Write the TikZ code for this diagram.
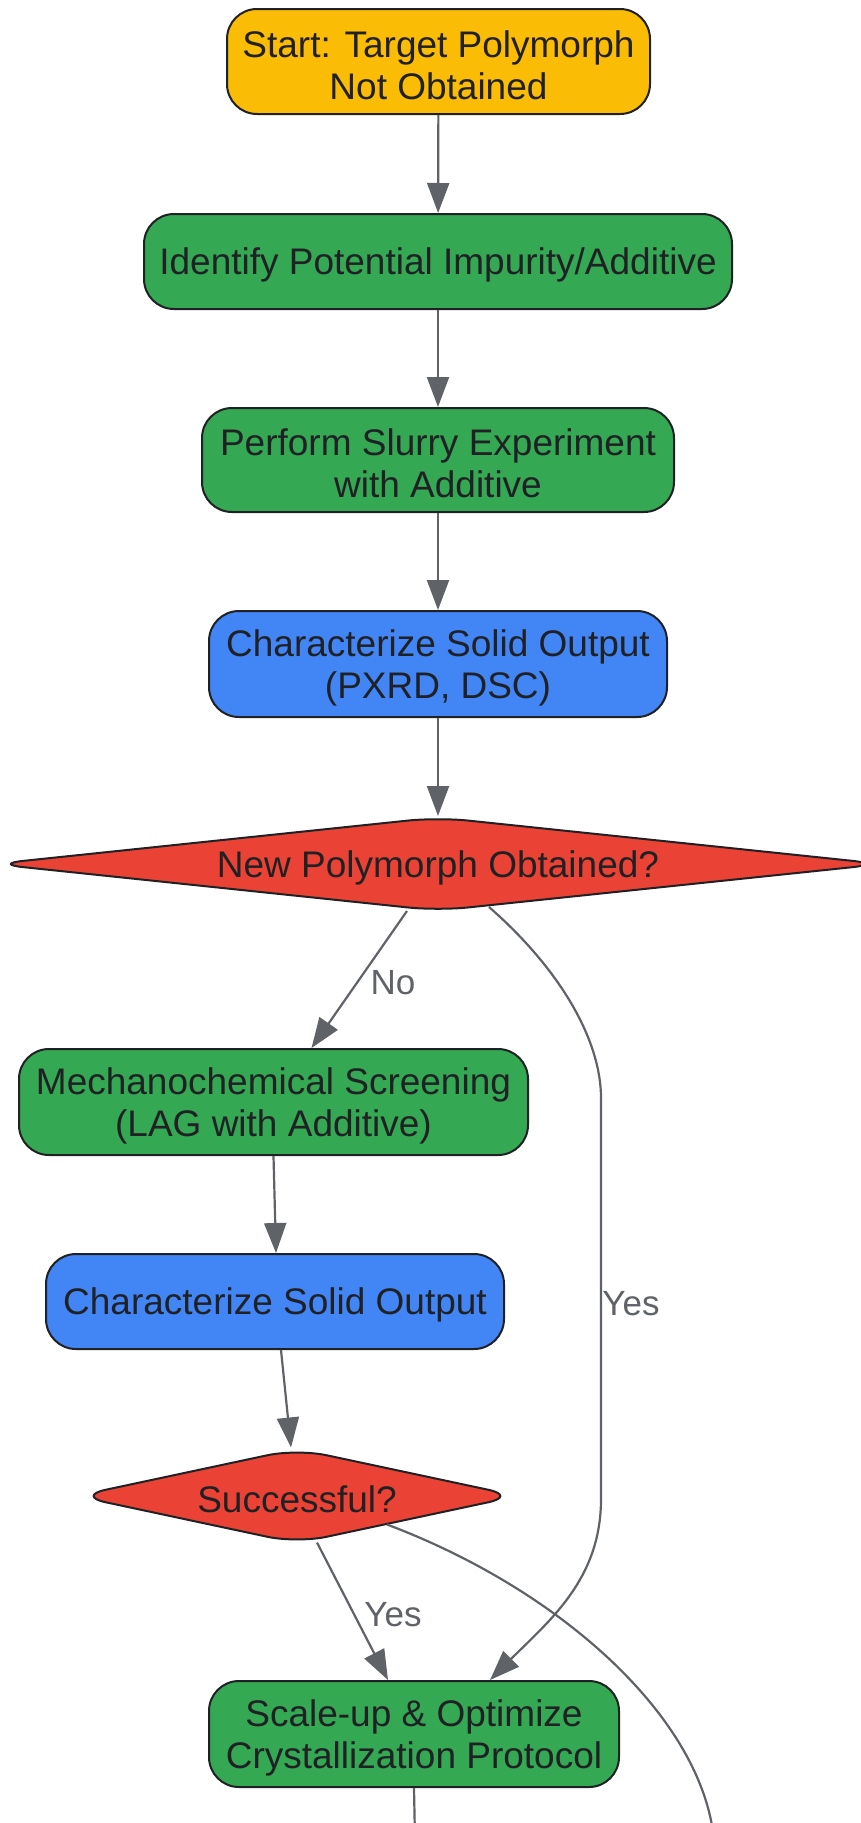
\documentclass[tikz,border=0pt]{standalone}
\usepackage{fontspec}
\setmainfont{Liberation Sans}
\usetikzlibrary{arrows.meta,shapes.geometric}
\definecolor{cyellow}{HTML}{FBBC05}
\definecolor{cgreen}{HTML}{34A853}
\definecolor{cblue}{HTML}{4285F4}
\definecolor{cred}{HTML}{EA4335}
\definecolor{cborder}{HTML}{202124}
\definecolor{ctext}{HTML}{202124}
\definecolor{cedge}{HTML}{5F6368}
\newcommand\txdn{\rule{0pt}{34pt}}
\tikzset{
  box/.style={draw=cborder, line width=2pt, rounded corners=30pt, align=center,
    inner sep=0pt, font=\fontsize{37}{42}\selectfont, text=ctext},
  dec/.style={draw=cborder, line width=2pt, shape=diamond, rounded corners=30pt,
    align=center, inner sep=0pt, fill=cred, font=\fontsize{37}{42}\selectfont, text=ctext},
  conn/.style={draw=cedge, line width=2.2pt, -{Triangle[length=30pt,width=22pt]}},
  plainconn/.style={draw=cedge, line width=2.2pt},
  lbl/.style={text=cedge, font=\fontsize{35}{40}\selectfont, inner sep=0pt},
}
\begin{document}
\begin{tikzpicture}[x=1pt,y=-1pt]
\useasboundingbox (0,0) rectangle (861,1823);
\clip (0,0) rectangle (861,1823);
\fill[white] (0,0) rectangle (861,1823);

\node[box, fill=cyellow, minimum width=423pt, minimum height=105pt] (start) at (438.5,61.5) {\txdn Start: Target Polymorph\\Not Obtained};
\node[box, fill=cgreen, minimum width=588pt, minimum height=95pt] (ident) at (438,261.5) {\txdn Identify Potential Impurity/Additive};
\node[box, fill=cgreen, minimum width=472pt, minimum height=104pt] (slurry) at (438,460) {\txdn Perform Slurry Experiment\\with Additive};
\node[box, fill=cblue, minimum width=458pt, minimum height=106pt] (charA) at (438,664) {\txdn Characterize Solid Output\\(PXRD, DSC)};
\node[dec, aspect=9.45, minimum width=890pt, minimum height=94pt] (decA) at (438,864) {\txdn New Polymorph Obtained?};
\node[box, fill=cgreen, minimum width=509pt, minimum height=106pt] (mech) at (273.5,1102) {\txdn Mechanochemical Screening\\(LAG with Additive)};
\node[box, fill=cblue, minimum width=458pt, minimum height=95pt] (charB) at (275,1301.5) {\txdn Characterize Solid Output};
\node[dec, aspect=4.7, minimum width=442pt, minimum height=95pt] (decB) at (297,1496) {\txdn Successful?};
\node[box, fill=cgreen, minimum width=410pt, minimum height=106pt] (scale) at (414,1734) {\txdn Scale-up \& Optimize\\Crystallization Protocol};

\coordinate (ya) at (601,1098);
\coordinate (yb) at (601,1499);
\coordinate (botA) at (415,1840);
\coordinate (botB) at (714,1840);

\draw[conn] (start) -- (ident);
\draw[conn] (ident) -- (slurry);
\draw[conn] (slurry) -- (charA);
\draw[conn] (charA) -- (decA.north);
\draw[conn] ([xshift=-31pt,yshift=1pt]decA.south) -- ([xshift=38pt]mech.north);
\draw[conn] (mech.south) -- ([xshift=1pt]charB.north);
\draw[conn] ([xshift=6pt]charB.south) -- ([xshift=-6pt]decB.north);
\draw[conn] ([xshift=20pt,yshift=2pt]decB.south) -- ([xshift=-26pt]scale.north);
\draw[conn] ([xshift=51pt,yshift=5pt]decA.south) .. controls +(71,62) and +(0,-58) .. (ya) -- (yb) .. controls +(0,80) and +(60,-60) .. ([xshift=76pt]scale.north);
\draw[plainconn] ([xshift=90pt,yshift=20pt]decB.south) .. controls +(173,65) and +(-12,-123) .. (botB);
\draw[plainconn] (scale.south) -- (botA);

\node[lbl] (lno) at (393,983) {No};
\node[lbl] (lyesA) at (631,1304) {Yes};
\node[lbl] (lyesB) at (393,1615) {Yes};
\end{tikzpicture}
\end{document}
